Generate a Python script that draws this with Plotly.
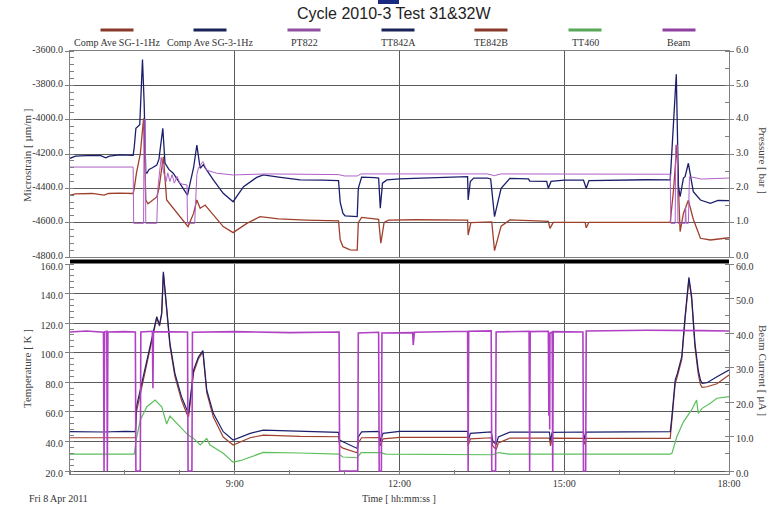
import plotly.graph_objects as go

# ---------------- text / ticks ----------------
title_text = "Cycle 2010-3 Test 31&32W"
series_names = ["Comp Ave SG-1-1Hz", "Comp Ave SG-3-1Hz", "PT822", "TT842A", "TE842B", "TT460", "Beam"]
series_colors = ["#A0402C", "#1B1F6B", "#B060C8", "#1B1F6B", "#A0402C", "#5BBF5B", "#B040C4"]
legend_colors = ["#8A3A2A", "#1A2358", "#9050A0", "#1A2358", "#8A3A2A", "#58A858", "#9040A0"]

x_ticks = [9, 12, 15, 18]
x_ticktext = ["9:00", "12:00", "15:00", "18:00"]
strain_ticks = [-3600, -3800, -4000, -4200, -4400, -4600, -4800]
pressure_ticks = [0, 1, 2, 3, 4, 5, 6]
temp_ticks = [20, 40, 60, 80, 100, 120, 140, 160]
beam_ticks = [0, 10, 20, 30, 40, 50, 60]

# ---------------- data (time in hours of 8 Apr 2011) ----------------
sg1_t = [6.00, 6.10, 6.40, 6.62, 6.70, 6.90, 7.15, 7.17, 7.21, 7.28, 7.34, 7.38, 7.42, 7.50, 7.58, 7.62, 7.70,
         7.76, 7.88, 8.00, 8.15, 8.25, 8.31, 8.37, 8.46, 8.61, 8.79, 8.97, 9.22, 9.46, 9.80, 10.30, 10.89,
         10.92, 10.97, 11.10, 11.23, 11.25, 11.31, 11.62, 11.66, 11.72, 11.80, 12.30, 13.00, 13.24, 13.25,
         13.30, 13.68, 13.73, 13.85, 14.01, 14.50, 14.71, 14.74, 14.80, 15.38, 15.40, 15.45, 16.93, 16.99,
         17.05, 17.11, 17.17, 17.26, 17.30, 17.35, 17.48, 17.66, 18.00]
sg1_v = [-4440, -4432, -4430, -4440, -4430, -4428, -4430, -4400, -4312, -4200, -3992, -4468, -4490, -4470, -4450,
         -4400, -4216, -4468, -4516, -4565, -4623, -4546, -4468, -4516, -4497, -4555, -4623, -4658, -4604, -4565,
         -4578, -4585, -4590, -4700, -4740, -4758, -4760, -4600, -4569, -4580, -4720, -4598, -4585, -4583, -4585,
         -4585, -4672, -4600, -4595, -4763, -4620, -4584, -4590, -4592, -4633, -4598, -4598, -4630, -4598, -4598,
         -4410, -4148, -4652, -4546, -4470, -4520, -4580, -4691, -4701, -4688]

sg3_t = [6.00, 6.10, 6.30, 6.55, 6.65, 6.72, 6.90, 7.05, 7.15, 7.17, 7.20, 7.27, 7.32, 7.35, 7.38, 7.40, 7.44,
         7.50, 7.58, 7.62, 7.69, 7.73, 7.80, 7.88, 8.00, 8.14, 8.18, 8.25, 8.31, 8.37, 8.43, 8.46, 8.61, 8.79,
         8.97, 9.16, 9.40, 9.52, 9.80, 10.19, 10.60, 10.89, 10.92, 10.97, 11.01, 11.10, 11.23, 11.25, 11.31,
         11.55, 11.62, 11.65, 11.69, 11.77, 12.00, 12.40, 12.80, 13.20, 13.24, 13.25, 13.29, 13.35, 13.60,
         13.66, 13.73, 13.85, 14.01, 14.35, 14.37, 14.68, 14.71, 14.76, 15.00, 15.35, 15.40, 15.45, 15.80,
         16.50, 16.93, 16.96, 17.00, 17.04, 17.08, 17.11, 17.17, 17.20, 17.26, 17.30, 17.35, 17.48, 17.66,
         17.80, 18.00]
sg3_v = [-4225, -4212, -4210, -4208, -4222, -4212, -4205, -4206, -4208, -4160, -4050, -4030, -3650, -3900, -4305,
         -4312, -4290, -4280, -4265, -4230, -4050, -4253, -4290, -4312, -4370, -4439, -4380, -4280, -4148, -4283,
         -4262, -4280, -4351, -4429, -4478, -4390, -4336, -4322, -4335, -4351, -4352, -4355, -4480, -4546, -4560,
         -4562, -4565, -4400, -4335, -4338, -4340, -4516, -4370, -4351, -4345, -4340, -4335, -4330, -4332, -4468,
         -4360, -4340, -4340, -4345, -4565, -4400, -4342, -4345, -4358, -4360, -4400, -4360, -4352, -4352, -4400,
         -4355, -4352, -4350, -4351, -4196, -4000, -3736, -4390, -4449, -4340, -4332, -4254, -4330, -4419, -4468,
         -4487, -4470, -4472]

pt822_t = [6.00, 7.15, 7.16, 7.34, 7.35, 7.37, 7.38, 7.58, 7.60, 7.66, 7.70, 7.75, 7.78, 7.82, 7.86, 7.90, 7.95,
           8.00, 8.05, 8.13, 8.14, 8.27, 8.31, 8.34, 8.42, 8.49, 8.67, 8.97, 9.58, 10.50, 10.89, 11.00, 11.23,
           11.30, 12.00, 13.60, 13.73, 13.85, 16.93, 16.94, 17.02, 17.03, 17.06, 17.07, 17.20, 17.21, 17.22, 17.26,
           17.28, 17.50, 18.00]
pt822_v = [2.62, 2.62, 0.98, 0.98, 4.00, 4.00, 0.98, 0.98, 2.00, 2.90, 2.50, 2.20, 2.45, 2.20, 2.40, 2.15, 2.35,
           2.15, 2.12, 2.10, 0.98, 0.98, 2.40, 2.60, 2.78, 2.53, 2.44, 2.39, 2.42, 2.41, 2.40, 2.36, 2.36, 2.42,
           2.42, 2.42, 2.37, 2.42, 2.41, 0.98, 0.98, 3.26, 3.26, 0.98, 0.98, 1.46, 0.98, 0.98, 2.34, 2.27, 2.30]

tt842a_t = [6.00, 6.60, 7.00, 7.19, 7.21, 7.28, 7.37, 7.44, 7.52, 7.58, 7.63, 7.67, 7.70, 7.76, 7.82, 7.91, 8.03,
            8.13, 8.16, 8.25, 8.34, 8.42, 8.49, 8.61, 8.79, 8.97, 9.28, 9.52, 10.19, 10.89, 10.91, 10.97, 11.23,
            11.25, 11.31, 11.63, 11.65, 11.70, 12.00, 13.24, 13.25, 13.29, 13.67, 13.70, 13.76, 13.80, 14.01,
            14.37, 14.73, 14.75, 14.78, 15.35, 15.37, 15.40, 16.93, 16.96, 17.02, 17.06, 17.14, 17.20, 17.23,
            17.27, 17.32, 17.38, 17.44, 17.48, 17.51, 17.60, 17.78, 18.00]
tt842a_v = [46.6, 46.4, 46.8, 46.6, 63.5, 74.8, 90.5, 101.8, 115.4, 124.4, 118.7, 127.0, 154.8, 128.9, 106.4, 86.1,
            70.3, 61.3, 59.0, 88.3, 97.3, 101.4, 74.8, 59.0, 46.6, 41.0, 45.5, 47.7, 47.0, 46.2, 41.0, 39.8, 35.3,
            43.0, 46.5, 46.8, 40.0, 45.5, 46.8, 46.8, 40.0, 45.5, 46.5, 40.0, 38.0, 43.0, 46.3, 46.2, 46.4, 40.5,
            46.2, 46.4, 41.5, 46.3, 46.6, 56.7, 81.5, 86.0, 97.3, 124.4, 137.9, 151.0, 137.9, 106.4, 88.3, 81.5,
            79.3, 79.7, 83.8, 88.3]

te842b_t = [6.00, 7.19, 7.21, 7.28, 7.37, 7.44, 7.52, 7.58, 7.63, 7.67, 7.70, 7.76, 7.82, 7.91, 8.03, 8.13, 8.16,
            8.25, 8.34, 8.42, 8.49, 8.61, 8.79, 8.97, 9.28, 9.52, 10.19, 10.89, 10.91, 10.97, 11.23, 11.25, 11.31,
            11.63, 11.65, 11.70, 12.00, 13.24, 13.25, 13.29, 13.67, 13.70, 13.76, 13.80, 14.01, 14.73, 14.75,
            14.78, 15.35, 15.37, 15.40, 16.93, 16.96, 17.02, 17.06, 17.14, 17.20, 17.23, 17.27, 17.32, 17.38,
            17.44, 17.48, 17.51, 17.60, 17.78, 18.00]
te842b_v = [42.5, 42.5, 60.0, 72.0, 89.0, 101.0, 114.5, 123.5, 118.0, 126.0, 153.5, 128.0, 104.5, 84.0, 68.0, 58.5,
            56.7, 86.5, 96.0, 100.5, 73.0, 56.5, 43.0, 37.6, 42.5, 44.3, 43.4, 43.2, 37.0, 35.5, 32.4, 39.0, 42.5,
            42.6, 37.0, 41.8, 42.8, 42.8, 37.0, 41.8, 42.5, 37.0, 34.5, 39.0, 42.3, 42.2, 37.0, 42.2, 42.1, 38.0,
            42.1, 42.1, 53.0, 79.0, 84.0, 95.5, 122.5, 136.0, 149.5, 136.0, 104.0, 85.5, 78.5, 76.6, 77.0, 79.0, 85.0]

tt460_t = [6.00, 6.60, 7.17, 7.20, 7.28, 7.40, 7.55, 7.67, 7.76, 7.82, 7.94, 8.15, 8.25, 8.37, 8.49, 8.55, 8.79,
           8.97, 9.10, 9.52, 10.19, 10.89, 10.97, 11.23, 11.30, 11.65, 11.75, 13.70, 13.80, 14.00, 16.93, 16.96,
           17.05, 17.17, 17.32, 17.41, 17.44, 17.51, 17.66, 17.78, 18.00]
tt460_v = [31.5, 31.5, 31.5, 40.0, 54.5, 63.5, 68.0, 63.5, 51.8, 57.2, 52.3, 44.3, 42.1, 37.6, 42.0, 37.6, 32.0,
           26.0, 27.0, 32.6, 32.2, 31.5, 29.5, 29.0, 32.5, 32.5, 31.5, 31.0, 32.5, 31.5, 31.5, 32.0, 43.2, 53.3,
           61.3, 68.0, 59.0, 62.4, 65.8, 69.2, 70.3]

beam_t = [6.00, 6.30, 6.61, 6.62, 6.63, 6.67, 6.68, 6.69, 7.00, 7.19, 7.20, 7.28, 7.29, 7.50, 7.51, 7.52, 8.14,
          8.15, 8.22, 8.23, 9.00, 10.00, 10.90, 10.91, 11.24, 11.25, 11.62, 11.63, 11.67, 11.68, 12.24, 12.25,
          12.27, 13.00, 13.24, 13.25, 13.26, 13.67, 13.68, 13.75, 13.76, 14.36, 14.37, 14.38, 14.71, 14.72,
          14.73, 14.735, 14.74, 14.78, 14.79, 14.80, 15.34, 15.35, 15.39, 15.40, 16.50, 17.50, 18.00]
beam_v = [40.3, 40.6, 40.2, 0.0, 40.3, 40.5, 0.0, 40.3, 40.4, 40.3, 0.0, 0.0, 40.3, 40.5, 24.0, 40.4, 40.3,
          0.0, 0.0, 40.2, 40.4, 40.1, 40.3, 0.0, 0.0, 40.0, 40.2, 0.0, 0.0, 40.0, 40.1, 36.5, 40.2, 40.4, 40.5,
          0.0, 40.5, 40.6, 0.0, 0.0, 40.3, 40.5, 0.0, 40.4, 40.5, 16.0, 40.0, 12.0, 40.0, 40.3, 0.0, 40.4, 40.3,
          0.0, 0.0, 40.6, 40.8, 40.7, 40.6]

# ---------------- geometry helpers ----------------
W, H = 781, 507
ML, MR, MT, MB = 70, 52, 51, 33
PW, PH = W - ML - MR, H - MT - MB


def fx(px):
    return (px - ML) / PW


def fy(py):
    return (H - MB - py) / PH


top_dom = [fy(257), 1.0]
bot_dom = [0.0, fy(264)]

SERIF = "Liberation Serif"
SANS = "Liberation Sans"
GRID = "#5a5a5a"
AXL = "#808080"
TICKF = dict(family=SERIF, size=10, color="#333333")

fig = go.Figure()
fig.add_trace(go.Scatter(x=pt822_t, y=pt822_v, mode="lines", name=series_names[2], xaxis="x2", yaxis="y2",
                         line=dict(color=series_colors[2], width=1.0)))
fig.add_trace(go.Scatter(x=sg1_t, y=sg1_v, mode="lines", name=series_names[0], xaxis="x2", yaxis="y",
                         line=dict(color=series_colors[0], width=1.3)))
fig.add_trace(go.Scatter(x=sg3_t, y=sg3_v, mode="lines", name=series_names[1], xaxis="x2", yaxis="y",
                         line=dict(color=series_colors[1], width=1.3)))
fig.add_trace(go.Scatter(x=tt460_t, y=tt460_v, mode="lines", name=series_names[5], xaxis="x", yaxis="y3",
                         line=dict(color=series_colors[5], width=1.2)))
fig.add_trace(go.Scatter(x=te842b_t, y=te842b_v, mode="lines", name=series_names[4], xaxis="x", yaxis="y3",
                         line=dict(color=series_colors[4], width=1.2)))
fig.add_trace(go.Scatter(x=tt842a_t, y=tt842a_v, mode="lines", name=series_names[3], xaxis="x", yaxis="y3",
                         line=dict(color=series_colors[3], width=1.2)))
fig.add_trace(go.Scatter(x=beam_t, y=beam_v, mode="lines", name=series_names[6], xaxis="x", yaxis="y4",
                         line=dict(color=series_colors[6], width=1.6)))

common_y = dict(showline=True, linecolor=AXL, linewidth=1, zeroline=False, tickfont=TICKF,
                ticks="outside", ticklen=4, tickcolor=AXL, tickmode="array")

fig.update_layout(
    width=W, height=H,
    margin=dict(l=ML, r=MR, t=MT, b=MB),
    paper_bgcolor="white", plot_bgcolor="white",
    showlegend=False,
    xaxis=dict(domain=[0, 1], anchor="y3", range=[6, 18], tickmode="array", tickvals=x_ticks,
               ticktext=x_ticktext, showgrid=True, gridcolor=GRID, gridwidth=1, showline=True,
               linecolor=AXL, zeroline=False, ticks="", tickfont=TICKF,
               minor=dict(tickmode="linear", tick0=6, dtick=1, ticks="inside", ticklen=4,
                          tickcolor=AXL, showgrid=False)),
    xaxis2=dict(domain=[0, 1], anchor="y", matches="x", range=[6, 18], tickmode="array", tickvals=x_ticks,
                showticklabels=False, showgrid=True, gridcolor=GRID, gridwidth=1, showline=True,
                mirror=True, linecolor=AXL, zeroline=False, ticks=""),
    yaxis=dict(domain=top_dom, anchor="x2", range=[-4800, -3600], tickvals=strain_ticks,
               ticktext=[f"{v:.1f}" for v in strain_ticks], showgrid=True, gridcolor=GRID, ticklabelshift=-2,
               minor=dict(tickmode="linear", tick0=-4800, dtick=40, ticks="inside", ticklen=4,
                          tickcolor=AXL, showgrid=False), **common_y),
    yaxis2=dict(overlaying="y", side="right", anchor="x2", range=[0, 6], tickvals=pressure_ticks,
                ticktext=[f"{v:.1f}" for v in pressure_ticks], showgrid=False, ticklabelshift=-2,
                minor=dict(tickmode="linear", tick0=0, dtick=0.5, ticks="inside", ticklen=4,
                           tickcolor=AXL, showgrid=False), **common_y),
    yaxis3=dict(domain=bot_dom, anchor="x", range=[18, 160], tickvals=temp_ticks,
                ticktext=[f"{v:.1f}" for v in temp_ticks], showgrid=True, gridcolor=GRID, ticklabelshift=2,
                minor=dict(tickmode="linear", tick0=20, dtick=4, ticks="inside", ticklen=4,
                           tickcolor=AXL, showgrid=False), **common_y),
    yaxis4=dict(overlaying="y3", side="right", anchor="x", range=[-0.87, 60], tickvals=beam_ticks,
                ticktext=[f"{v:.1f}" for v in beam_ticks], showgrid=False, ticklabelshift=2,
                minor=dict(tickmode="linear", tick0=0, dtick=5, ticks="inside", ticklen=4,
                           tickcolor=AXL, showgrid=False), **common_y),
)

shapes = []
# thick separator band between panels
shapes.append(dict(type="rect", xref="paper", yref="paper", x0=0, x1=1, y0=fy(263.5), y1=fy(259.5),
                   fillcolor="black", line=dict(width=0), layer="above"))
# small window-icon artifact above title
shapes.append(dict(type="rect", xref="paper", yref="paper", x0=fx(378), x1=fx(399), y0=fy(4), y1=fy(0),
                   fillcolor="#1A2A80", line=dict(width=0)))

annotations = []
# legend (manual)
legend_centers = [117, 210, 304, 398, 491, 585, 679]
for name, col, cx in zip(series_names, legend_colors, legend_centers):
    shapes.append(dict(type="line", xref="paper", yref="paper", x0=fx(cx - 16.5), x1=fx(cx + 16.5),
                       y0=fy(30), y1=fy(30), line=dict(color=col, width=3)))
    annotations.append(dict(text=name, xref="paper", yref="paper", x=fx(cx), y=fy(42.5), showarrow=False,
                            xanchor="center", yanchor="middle", font=dict(family=SERIF, size=10, color="#333333")))

annotations += [
    dict(text=title_text, xref="paper", yref="paper", x=fx(394), y=fy(14), showarrow=False,
         xanchor="center", yanchor="middle", font=dict(family=SANS, size=16, color="#222222")),
    dict(text="Microstrain [ µm/m ]", xref="paper", yref="paper", x=fx(27), y=fy(156), showarrow=False,
         textangle=-90, xanchor="center", yanchor="middle", font=dict(family=SERIF, size=11, color="#444444")),
    dict(text="Temperature [ K ]", xref="paper", yref="paper", x=fx(27), y=fy(369), showarrow=False,
         textangle=-90, xanchor="center", yanchor="middle", font=dict(family=SERIF, size=11, color="#444444")),
    dict(text="Pressure [ bar ]", xref="paper", yref="paper", x=fx(763), y=fy(160), showarrow=False,
         textangle=90, xanchor="center", yanchor="middle", font=dict(family=SERIF, size=11, color="#444444")),
    dict(text="Beam Current [ µA ]", xref="paper", yref="paper", x=fx(763), y=fy(370), showarrow=False,
         textangle=90, xanchor="center", yanchor="middle", font=dict(family=SERIF, size=11, color="#444444")),
    dict(text="Fri 8 Apr 2011", xref="paper", yref="paper", x=fx(58), y=fy(498), showarrow=False,
         xanchor="center", yanchor="middle", font=dict(family=SERIF, size=10, color="#333333")),
    dict(text="Time [ hh:mm:ss ]", xref="paper", yref="paper", x=fx(399), y=fy(498), showarrow=False,
         xanchor="center", yanchor="middle", font=dict(family=SERIF, size=10, color="#333333")),
]

fig.update_layout(shapes=shapes, annotations=annotations)
fig.write_html("out.html", config={"displayModeBar": False},
               post_script="document.body.style.margin='0px';document.body.style.padding='0px';")
